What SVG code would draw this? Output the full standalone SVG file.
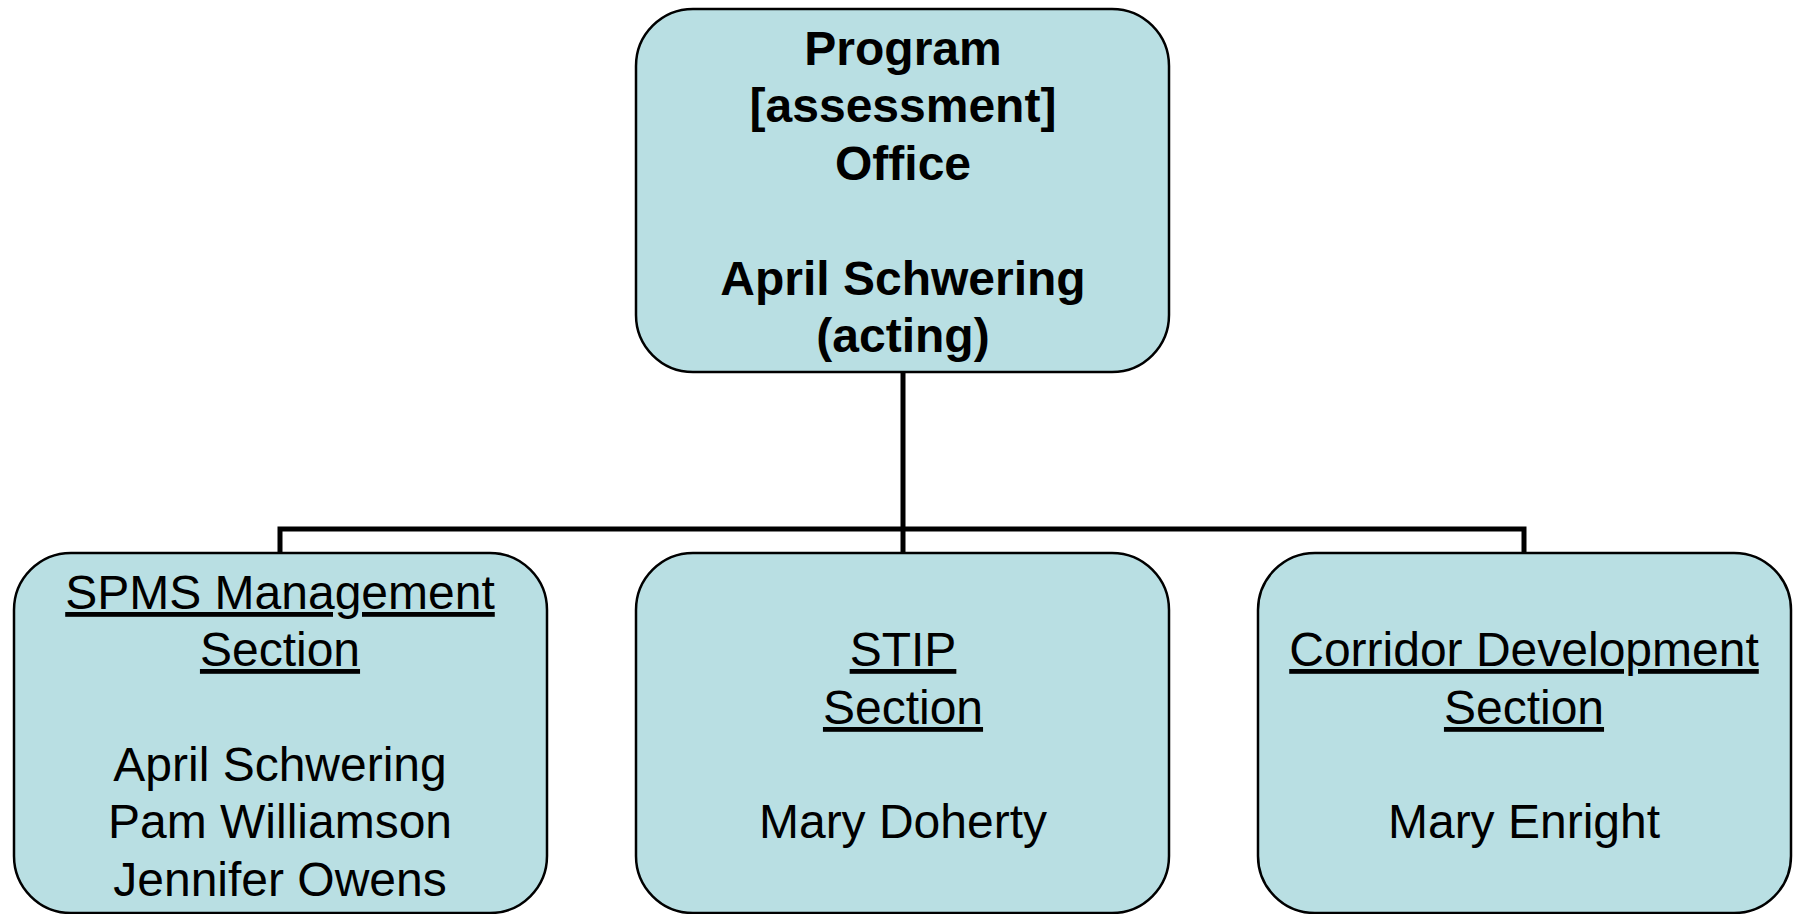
<svg xmlns="http://www.w3.org/2000/svg" width="1793" height="914" viewBox="0 0 1793 914">
<style>
.box{fill:#B9DFE3;stroke:#000;stroke-width:2.5}
.t{font-family:"Liberation Sans",Arial,sans-serif;font-size:48px;text-anchor:middle;fill:#000}
.b{font-weight:bold}
.u{text-decoration:underline}
.c{fill:none;stroke:#000;stroke-width:5}
</style>
<rect width="1793" height="914" fill="#fff"/>
<g id="connectors">
<path class="c" d="M903 372 V529"/>
<path class="c" d="M280 553 V529 H1524 V553"/>
<path class="c" d="M903 529 V553"/>
</g>
<g id="program-office">
<rect class="box" x="636" y="9" width="533" height="363" rx="57"/>
<text class="t b" x="903" y="65">Program</text>
<text class="t b" x="903" y="122">[assessment]</text>
<text class="t b" x="903" y="180">Office</text>
<text class="t b" x="903" y="295">April Schwering</text>
<text class="t b" x="903" y="352">(acting)</text>
</g>
<g id="spms-section">
<rect class="box" x="14" y="553" width="533" height="360" rx="57"/>
<text class="t u" x="280" y="609">SPMS Management</text>
<text class="t u" x="280" y="666">Section</text>
<text class="t" x="280" y="781">April Schwering</text>
<text class="t" x="280" y="838">Pam Williamson</text>
<text class="t" x="280" y="896">Jennifer Owens</text>
</g>
<g id="stip-section">
<rect class="box" x="636" y="553" width="533" height="360" rx="57"/>
<text class="t u" x="903" y="666">STIP</text>
<text class="t u" x="903" y="724">Section</text>
<text class="t" x="903" y="838">Mary Doherty</text>
</g>
<g id="corridor-section">
<rect class="box" x="1258" y="553" width="533" height="360" rx="57"/>
<text class="t u" x="1524" y="666">Corridor Development</text>
<text class="t u" x="1524" y="724">Section</text>
<text class="t" x="1524" y="838">Mary Enright</text>
</g>
</svg>
